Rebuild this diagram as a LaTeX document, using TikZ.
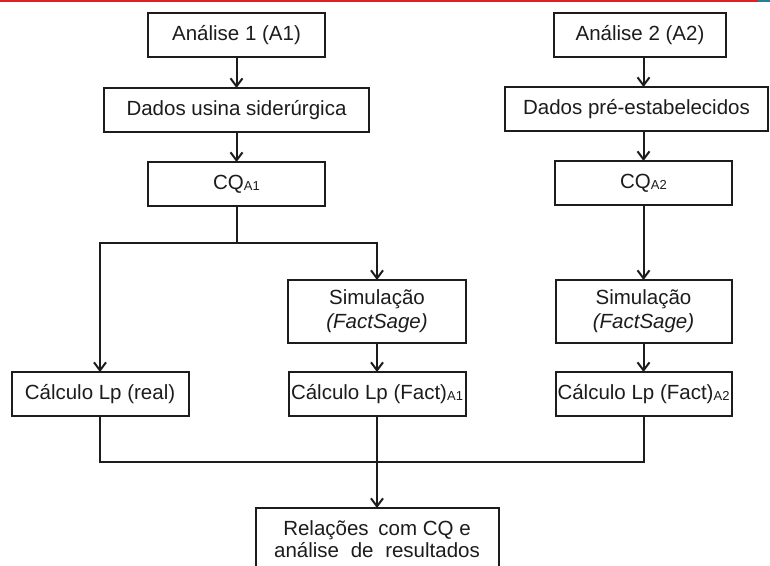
\documentclass[tikz,border=0pt]{standalone}
\usepackage{fontspec}
\setmainfont{Liberation Sans}
\usepackage{tikz}
\usetikzlibrary{positioning, arrows.meta, calc}
\definecolor{topred}{RGB}{222, 32, 40}
\definecolor{topteal}{RGB}{38, 128, 146}
\definecolor{inkgray}{RGB}{28, 28, 28}
\newcommand{\subtag}[1]{\raisebox{-1.5pt}[\height][0pt]{\fontsize{13}{13}\selectfont #1}}

\begin{document}
\begin{tikzpicture}[x=1pt, y=-1pt,
  box/.style={rectangle, draw=inkgray, line width=2pt, fill=white,
    text=inkgray, align=center, inner sep=0pt, outer sep=0pt, minimum height=44pt,
    font=\fontsize{20.5}{24}\selectfont},
  tallbox/.style={box, minimum height=63pt},
  line/.style={line width=2pt, draw=inkgray},
  link/.style={line, -{Straight Barb[length=8pt, width=12pt, line width=2pt]}}
]
  \useasboundingbox (0,0) rectangle (770,565);
  \fill[topred] (0,0) rectangle (758,1.6);
  \fill[topteal] (758,0) rectangle (770,1.6);

  % coluna A1
  \node[box, minimum width=177pt] (a1) at (236.5,35) {Análise 1 (A1)};
  \node[box, minimum width=265pt, below=31pt of a1] (dados1) {Dados usina siderúrgica};
  \node[box, minimum width=177pt, below=30pt of dados1] (cq1) {CQ\subtag{A1}};
  \node[tallbox, minimum width=178pt] (sim1) at (377,311.5) {Simulação\\\textit{(FactSage)}};
  \node[box, minimum width=177pt, below=29pt of sim1] (fact1) {Cálculo Lp (Fact)\subtag{A1}};
  \node[box, minimum width=177pt, left=100pt of fact1] (real) {Cálculo Lp (real)};

  % coluna A2
  \node[box, minimum width=172pt] (a2) at (640,35) {Análise 2 (A2)};
  \node[box, minimum width=263pt, below=30pt of a2, xshift=-3.5pt] (dados2) {Dados pré-estabelecidos};
  \node[box, minimum width=177pt] (cq2) at (643.5,183) {CQ\subtag{A2}};
  \node[tallbox, minimum width=176pt, below=75pt of cq2] (sim2) {Simulação\\\textit{(FactSage)}};
  \node[box, minimum width=176pt, below=29pt of sim2] (fact2) {Cálculo Lp (Fact)\subtag{A2}};

  \node[tallbox, minimum width=243pt, below=92pt of fact1] (rel)
    {Relações\hspace{4pt} com CQ e\\[-2pt]análise\hspace{6pt} de\hspace{6pt} resultados};

  \coordinate (split) at ($(cq1.south)!0.5!(sim1.north)$);
  \coordinate (merge) at ($(fact1.south)!0.5!(rel.north)$);

  \draw[link] (a1) -- (dados1);
  \draw[link] (dados1) -- (cq1);
  \draw[line] (cq1) -- (cq1 |- split);
  \draw[link] (cq1 |- split) -| (real);
  \draw[link] (cq1 |- split) -| (sim1);
  \draw[link] (sim1) -- (fact1);

  \draw[link] (a2.south -| cq2) -- (dados2.north -| cq2);
  \draw[link] (dados2.south -| cq2) -- (cq2);
  \draw[link] (cq2) -- (sim2);
  \draw[link] (sim2) -- (fact2);

  \draw[line] (real) -- (real |- merge) -- (fact2 |- merge) -- (fact2);
  \draw[link] (fact1) -- (rel);
\end{tikzpicture}
\end{document}
